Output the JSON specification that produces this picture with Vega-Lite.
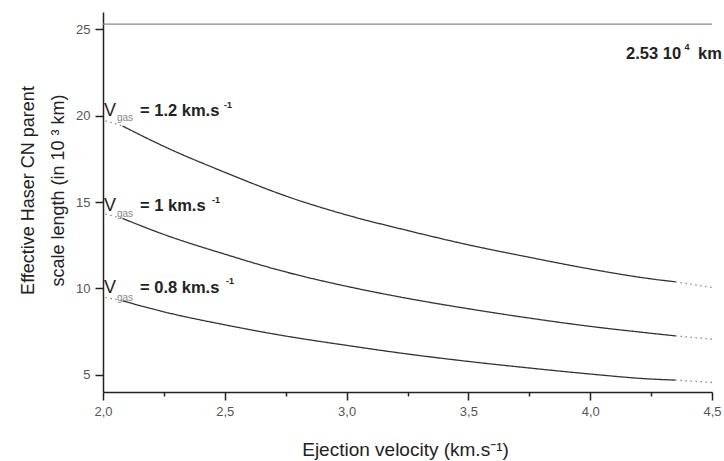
{
  "$schema": "https://vega.github.io/schema/vega-lite/v6.json",
  "width": 609,
  "height": 380,
  "autosize": {"type": "none"},
  "padding": {"left": 103, "top": 12, "right": 12, "bottom": 69},
  "background": "white",
  "config": {
    "font": "Liberation Sans",
    "view": {"stroke": null},
    "axis": {"grid": false, "domainColor": "#222", "domainWidth": 1.5, "tickColor": "#222", "tickWidth": 1.5, "labelFont": "Liberation Sans", "labelFontSize": 13, "labelColor": "#555", "titleFont": "Liberation Sans", "titleFontSize": 18, "titleFontWeight": "normal", "titleColor": "#222"}
  },
  "datasets": {
    "curves": [
      {"v": 2.01, "L": 19.7, "vgas": "1.2", "seg": "start"},
      {"v": 2.08, "L": 19.4, "vgas": "1.2", "seg": "start"},
      {"v": 2.08, "L": 19.4, "vgas": "1.2", "seg": "computed"},
      {"v": 2.25, "L": 18.22, "vgas": "1.2", "seg": "computed"},
      {"v": 2.5, "L": 16.72, "vgas": "1.2", "seg": "computed"},
      {"v": 2.75, "L": 15.35, "vgas": "1.2", "seg": "computed"},
      {"v": 3.0, "L": 14.25, "vgas": "1.2", "seg": "computed"},
      {"v": 3.25, "L": 13.35, "vgas": "1.2", "seg": "computed"},
      {"v": 3.5, "L": 12.52, "vgas": "1.2", "seg": "computed"},
      {"v": 3.75, "L": 11.8, "vgas": "1.2", "seg": "computed"},
      {"v": 4.0, "L": 11.12, "vgas": "1.2", "seg": "computed"},
      {"v": 4.25, "L": 10.55, "vgas": "1.2", "seg": "computed"},
      {"v": 4.35, "L": 10.38, "vgas": "1.2", "seg": "computed"},
      {"v": 4.35, "L": 10.38, "vgas": "1.2", "seg": "end"},
      {"v": 4.5, "L": 10.05, "vgas": "1.2", "seg": "end"},
      {"v": 2.01, "L": 14.3, "vgas": "1", "seg": "start"},
      {"v": 2.08, "L": 14.05, "vgas": "1", "seg": "start"},
      {"v": 2.08, "L": 14.05, "vgas": "1", "seg": "computed"},
      {"v": 2.25, "L": 13.12, "vgas": "1", "seg": "computed"},
      {"v": 2.5, "L": 11.98, "vgas": "1", "seg": "computed"},
      {"v": 2.75, "L": 10.95, "vgas": "1", "seg": "computed"},
      {"v": 3.0, "L": 10.12, "vgas": "1", "seg": "computed"},
      {"v": 3.25, "L": 9.42, "vgas": "1", "seg": "computed"},
      {"v": 3.5, "L": 8.82, "vgas": "1", "seg": "computed"},
      {"v": 3.75, "L": 8.28, "vgas": "1", "seg": "computed"},
      {"v": 4.0, "L": 7.8, "vgas": "1", "seg": "computed"},
      {"v": 4.25, "L": 7.4, "vgas": "1", "seg": "computed"},
      {"v": 4.35, "L": 7.25, "vgas": "1", "seg": "computed"},
      {"v": 4.35, "L": 7.25, "vgas": "1", "seg": "end"},
      {"v": 4.5, "L": 7.06, "vgas": "1", "seg": "end"},
      {"v": 2.01, "L": 9.47, "vgas": "0.8", "seg": "start"},
      {"v": 2.08, "L": 9.28, "vgas": "0.8", "seg": "start"},
      {"v": 2.08, "L": 9.28, "vgas": "0.8", "seg": "computed"},
      {"v": 2.25, "L": 8.64, "vgas": "0.8", "seg": "computed"},
      {"v": 2.5, "L": 7.89, "vgas": "0.8", "seg": "computed"},
      {"v": 2.75, "L": 7.24, "vgas": "0.8", "seg": "computed"},
      {"v": 3.0, "L": 6.7, "vgas": "0.8", "seg": "computed"},
      {"v": 3.25, "L": 6.2, "vgas": "0.8", "seg": "computed"},
      {"v": 3.5, "L": 5.77, "vgas": "0.8", "seg": "computed"},
      {"v": 3.75, "L": 5.39, "vgas": "0.8", "seg": "computed"},
      {"v": 4.0, "L": 5.04, "vgas": "0.8", "seg": "computed"},
      {"v": 4.25, "L": 4.75, "vgas": "0.8", "seg": "computed"},
      {"v": 4.35, "L": 4.69, "vgas": "0.8", "seg": "computed"},
      {"v": 4.35, "L": 4.69, "vgas": "0.8", "seg": "end"},
      {"v": 4.5, "L": 4.55, "vgas": "0.8", "seg": "end"}
    ],
    "limit": [{"v0": 2.0, "v1": 4.5, "L": 25.3}],
    "labels": [
      {"v": 2.004, "L": 20.29, "text": "V", "role": "symbol"},
      {"v": 2.057, "L": 19.86, "text": "gas", "role": "sub"},
      {"v": 2.152, "L": 20.29, "text": "= 1.2 km.s", "role": "main"},
      {"v": 2.497, "L": 20.64, "text": "-1", "role": "sup"},
      {"v": 2.004, "L": 14.75, "text": "V", "role": "symbol"},
      {"v": 2.057, "L": 14.31, "text": "gas", "role": "sub"},
      {"v": 2.152, "L": 14.75, "text": "= 1 km.s", "role": "main"},
      {"v": 2.447, "L": 15.12, "text": "-1", "role": "sup"},
      {"v": 2.004, "L": 10.0, "text": "V", "role": "symbol"},
      {"v": 2.057, "L": 9.45, "text": "gas", "role": "sub"},
      {"v": 2.152, "L": 10.0, "text": "= 0.8 km.s", "role": "main"},
      {"v": 2.505, "L": 10.43, "text": "-1", "role": "sup"},
      {"v": 4.147, "L": 23.55, "text": "2.53 10", "role": "main"},
      {"v": 4.387, "L": 24.0, "text": "4", "role": "sup"},
      {"v": 4.443, "L": 23.55, "text": "km", "role": "main"}
    ]
  },
  "layer": [
    {
      "data": {"name": "limit"},
      "mark": {"type": "rule", "color": "#888", "strokeWidth": 1.2},
      "encoding": {
        "x": {"field": "v0", "type": "quantitative", "scale": {"domain": [2, 4.5], "nice": false, "zero": false}},
        "x2": {"field": "v1"},
        "y": {"field": "L", "type": "quantitative", "scale": {"domain": [4, 26], "nice": false, "zero": false}}
      }
    },
    {
      "data": {"name": "curves"},
      "mark": {"type": "line", "interpolate": "monotone", "strokeWidth": 1.3},
      "encoding": {
        "x": {
          "field": "v", "type": "quantitative",
          "scale": {"domain": [2, 4.5], "nice": false, "zero": false},
          "axis": {
            "title": "Ejection velocity (km.s⁻¹)",
            "titleFontSize": 19,
            "values": [2, 2.25, 2.5, 2.75, 3, 3.25, 3.5, 3.75, 4, 4.25, 4.5],
            "labelExpr": "(datum.value * 4) % 2 == 0 ? replace(format(datum.value, '.1f'), '.', ',') : ''",
            "tickSize": {"condition": {"test": "(datum.value * 4) % 2 == 0", "value": 8}, "value": 4},
            "labelPadding": 5,
            "labelFlush": false,
            "labelOverlap": false,
            "labelBound": false,
            "titleBaseline": "alphabetic",
            "titleY": 63,
            "titleX": 302
          }
        },
        "y": {
          "field": "L", "type": "quantitative",
          "scale": {"domain": [4, 26], "nice": false, "zero": false},
          "axis": {
            "title": ["Effective Haser CN parent", "scale length (in 10 ³ km)"],
            "values": [5, 10, 15, 20, 25],
            "format": "d",
            "tickSize": 8,
            "labelPadding": 5,
            "titleAngle": -90,
            "titleAlign": "center",
            "titleBaseline": "alphabetic",
            "titleLineHeight": 30,
            "titleX": -70,
            "titleY": 178
          }
        },
        "detail": [{"field": "vgas"}, {"field": "seg"}],
        "color": {"field": "seg", "type": "nominal", "scale": {"domain": ["computed", "start", "end"], "range": ["#333333", "#888888", "#888888"]}, "legend": null},
        "strokeDash": {"field": "seg", "type": "nominal", "scale": {"domain": ["computed", "start", "end"], "range": [[1, 0], [1.5, 3.5], [1.5, 3.5]]}, "legend": null}
      }
    },
    {
      "data": {"name": "labels"},
      "transform": [{"filter": "datum.role == 'symbol'"}],
      "mark": {"type": "text", "align": "left", "baseline": "middle", "fontSize": 18, "color": "#222"},
      "encoding": {
        "x": {"field": "v", "type": "quantitative"},
        "y": {"field": "L", "type": "quantitative"},
        "text": {"field": "text"}
      }
    },
    {
      "data": {"name": "labels"},
      "transform": [{"filter": "datum.role == 'sub'"}],
      "mark": {"type": "text", "align": "left", "baseline": "middle", "fontSize": 10, "color": "#888"},
      "encoding": {
        "x": {"field": "v", "type": "quantitative"},
        "y": {"field": "L", "type": "quantitative"},
        "text": {"field": "text"}
      }
    },
    {
      "data": {"name": "labels"},
      "transform": [{"filter": "datum.role == 'main'"}],
      "mark": {"type": "text", "align": "left", "baseline": "middle", "fontSize": 16.5, "fontWeight": "bold", "color": "#222"},
      "encoding": {
        "x": {"field": "v", "type": "quantitative"},
        "y": {"field": "L", "type": "quantitative"},
        "text": {"field": "text"}
      }
    },
    {
      "data": {"name": "labels"},
      "transform": [{"filter": "datum.role == 'sup'"}],
      "mark": {"type": "text", "align": "left", "baseline": "middle", "fontSize": 9, "fontWeight": "bold", "color": "#222"},
      "encoding": {
        "x": {"field": "v", "type": "quantitative"},
        "y": {"field": "L", "type": "quantitative"},
        "text": {"field": "text"}
      }
    }
  ]
}
